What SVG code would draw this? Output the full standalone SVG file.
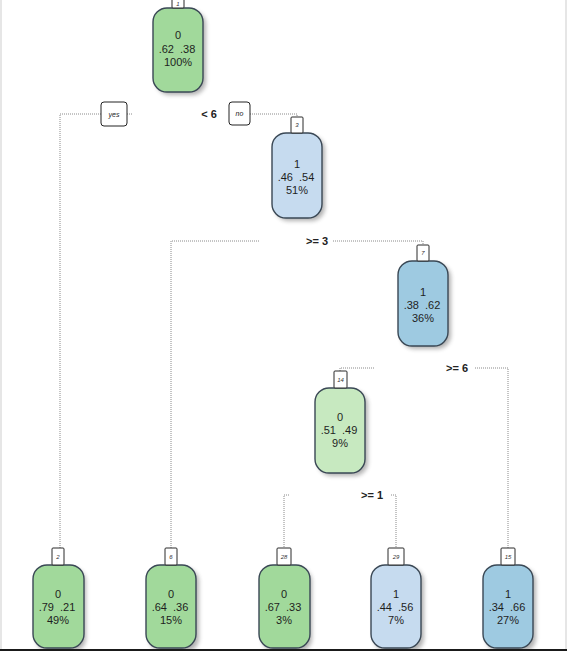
<svg xmlns="http://www.w3.org/2000/svg" width="567" height="651" viewBox="0 0 567 651">
  <style>
    .box { stroke: #3a4855; stroke-width: 1.4; }
    .tab { fill: #ffffff; stroke: #2a2a2a; stroke-width: 1; }
    .tabtxt { font-family: "Liberation Sans", Arial, sans-serif; font-size: 6px; font-style: italic; fill: #333; text-anchor: middle; }
    .ntxt { font-family: "Liberation Sans", Arial, sans-serif; font-size: 11px; fill: #1e1e1e; text-anchor: middle; }
    .split { font-family: "Liberation Sans", Arial, sans-serif; font-size: 11px; font-weight: bold; fill: #222; text-anchor: middle; }
    .yn { font-family: "Liberation Sans", Arial, sans-serif; font-size: 7px; font-style: italic; fill: #222; text-anchor: middle; }
    .ynbox { fill: #ffffff; stroke: #222; stroke-width: 1; }
    .edge { fill: none; stroke: #8a8a8a; stroke-width: 1; stroke-dasharray: 1 1; }
    .g0 { fill: #a1d99b; }
    .g1 { fill: #c7e9c0; }
    .b1 { fill: #c6dbef; }
    .b0 { fill: #9ecae1; }
  </style>
  <defs>
    <filter id="shadow" x="-30%" y="-30%" width="160%" height="160%">
      <feGaussianBlur stdDeviation="2"/>
    </filter>
  </defs>

  <rect x="0" y="0" width="567" height="651" fill="#ffffff"/>
  <rect x="0" y="0" width="2" height="651" fill="#e6e6e6"/>
  <rect x="565" y="0" width="2" height="651" fill="#e6e6e6"/>

  <!-- connectors -->
  <g id="edges">
    <path class="edge" d="M60 548 V114 H101"/>
    <path class="edge" d="M127 114 H132"/>
    <path class="edge" d="M250 114 H297 V117"/>
    <path class="edge" d="M171 548 V241 H259"/>
    <path class="edge" d="M333 241 H423 V245"/>
    <path class="edge" d="M374 368 H340 V371"/>
    <path class="edge" d="M475 368 H508 V548"/>
    <path class="edge" d="M289 495 H284 V548"/>
    <path class="edge" d="M391 495 H396 V548"/>
  </g>

  <!-- split labels -->
  <g id="splits">
    <g id="split1">
      <rect class="ynbox" x="101" y="102" width="26" height="24" rx="3"/>
      <text class="yn" x="114" y="117">yes</text>
      <text class="split" x="209" y="118">&lt; 6</text>
      <rect class="ynbox" x="229" y="102" width="21" height="23" rx="3"/>
      <text class="yn" x="239.5" y="116">no</text>
    </g>
    <text class="split" x="317" y="245">&gt;= 3</text>
    <text class="split" x="457" y="372">&gt;= 6</text>
    <text class="split" x="372" y="499">&gt;= 1</text>
  </g>

  <!-- node 1 (root) -->
  <g id="node1">
    <rect x="156" y="11" width="50" height="84" rx="14" fill="#555" opacity="0.45" filter="url(#shadow)"/>
    <rect class="box g0" x="153" y="8" width="50" height="84" rx="14"/>
    <rect class="tab" x="172" y="-6" width="12" height="14" rx="1"/>
    <text class="tabtxt" x="178" y="6">1</text>
    <text class="ntxt" x="178" y="39">0</text>
    <text class="ntxt" x="177" y="53" xml:space="preserve">.62  .38</text>
    <text class="ntxt" x="178" y="66">100%</text>
  </g>

  <!-- node 3 -->
  <g id="node3">
    <rect x="275" y="136" width="50" height="85" rx="14" fill="#555" opacity="0.45" filter="url(#shadow)"/>
    <rect class="box b1" x="272" y="133" width="50" height="85" rx="14"/>
    <rect class="tab" x="291" y="117" width="12" height="16" rx="1"/>
    <text class="tabtxt" x="297" y="127">3</text>
    <text class="ntxt" x="297" y="168">1</text>
    <text class="ntxt" x="296" y="181" xml:space="preserve">.46  .54</text>
    <text class="ntxt" x="297" y="194">51%</text>
  </g>

  <!-- node 7 -->
  <g id="node7">
    <rect x="401" y="264" width="50" height="85" rx="14" fill="#555" opacity="0.45" filter="url(#shadow)"/>
    <rect class="box b0" x="398" y="261" width="50" height="85" rx="14"/>
    <rect class="tab" x="417" y="245" width="12" height="16" rx="1"/>
    <text class="tabtxt" x="423" y="255">7</text>
    <text class="ntxt" x="423" y="296">1</text>
    <text class="ntxt" x="422" y="309" xml:space="preserve">.38  .62</text>
    <text class="ntxt" x="423" y="322">36%</text>
  </g>

  <!-- node 14 -->
  <g id="node14">
    <rect x="318" y="391" width="50" height="85" rx="14" fill="#555" opacity="0.45" filter="url(#shadow)"/>
    <rect class="box g1" x="315" y="388" width="50" height="85" rx="14"/>
    <rect class="tab" x="334" y="371" width="13" height="17" rx="1"/>
    <text class="tabtxt" x="340.5" y="382">14</text>
    <text class="ntxt" x="340" y="421">0</text>
    <text class="ntxt" x="339" y="434" xml:space="preserve">.51  .49</text>
    <text class="ntxt" x="340" y="447">9%</text>
  </g>

  <!-- leaf 2 -->
  <g id="node2">
    <rect x="36" y="568" width="50" height="84" rx="14" fill="#555" opacity="0.45" filter="url(#shadow)"/>
    <rect class="box g0" x="33" y="565" width="51" height="83" rx="14"/>
    <rect class="tab" x="52" y="548" width="12" height="17" rx="1"/>
    <text class="tabtxt" x="58" y="559">2</text>
    <text class="ntxt" x="58" y="598">0</text>
    <text class="ntxt" x="57" y="611" xml:space="preserve">.79  .21</text>
    <text class="ntxt" x="58" y="624">49%</text>
  </g>

  <!-- leaf 6 -->
  <g id="node6">
    <rect x="149" y="568" width="50" height="84" rx="14" fill="#555" opacity="0.45" filter="url(#shadow)"/>
    <rect class="box g0" x="146" y="565" width="50" height="83" rx="14"/>
    <rect class="tab" x="165" y="548" width="12" height="17" rx="1"/>
    <text class="tabtxt" x="171" y="559">6</text>
    <text class="ntxt" x="171" y="598">0</text>
    <text class="ntxt" x="170" y="611" xml:space="preserve">.64  .36</text>
    <text class="ntxt" x="171" y="624">15%</text>
  </g>

  <!-- leaf 28 -->
  <g id="node28">
    <rect x="262" y="568" width="50" height="84" rx="14" fill="#555" opacity="0.45" filter="url(#shadow)"/>
    <rect class="box g0" x="259" y="565" width="51" height="83" rx="14"/>
    <rect class="tab" x="277" y="548" width="14" height="17" rx="1"/>
    <text class="tabtxt" x="284" y="559">28</text>
    <text class="ntxt" x="284" y="598">0</text>
    <text class="ntxt" x="283" y="611" xml:space="preserve">.67  .33</text>
    <text class="ntxt" x="284" y="624">3%</text>
  </g>

  <!-- leaf 29 -->
  <g id="node29">
    <rect x="374" y="568" width="50" height="84" rx="14" fill="#555" opacity="0.45" filter="url(#shadow)"/>
    <rect class="box b1" x="371" y="565" width="50" height="83" rx="14"/>
    <rect class="tab" x="388" y="548" width="16" height="17" rx="1"/>
    <text class="tabtxt" x="396" y="559">29</text>
    <text class="ntxt" x="396" y="598">1</text>
    <text class="ntxt" x="395" y="611" xml:space="preserve">.44  .56</text>
    <text class="ntxt" x="396" y="624">7%</text>
  </g>

  <!-- leaf 15 -->
  <g id="node15">
    <rect x="486" y="568" width="50" height="84" rx="14" fill="#555" opacity="0.45" filter="url(#shadow)"/>
    <rect class="box b0" x="483" y="565" width="50" height="83" rx="14"/>
    <rect class="tab" x="501" y="548" width="14" height="17" rx="1"/>
    <text class="tabtxt" x="508" y="559">15</text>
    <text class="ntxt" x="508" y="598">1</text>
    <text class="ntxt" x="507" y="611" xml:space="preserve">.34  .66</text>
    <text class="ntxt" x="508" y="624">27%</text>
  </g>

  <rect x="0" y="649" width="567" height="2" fill="#1a1a1a"/>
</svg>
